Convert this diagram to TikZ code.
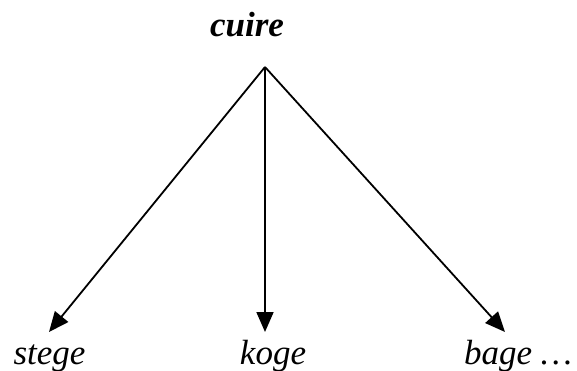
\documentclass[tikz,border=0pt]{standalone}
\usepackage{fontspec}
\setmainfont{Liberation Serif}
\usetikzlibrary{arrows.meta}

\begin{document}
\begin{tikzpicture}[x=1pt,y=-1pt,line width=1.8pt,>={Triangle[length=20pt,width=17pt]},
  word/.style={font=\itshape\fontsize{35}{42}\selectfont,anchor=base,inner sep=0pt}]
  \useasboundingbox (0,0) rectangle (577,371);
  % racine
  \node[word,font=\bfseries\itshape\fontsize{35}{42}\selectfont] (cuire) at (247,37) {cuire};
  \coordinate (top) at (265,67);
  % derives
  \node[word] (stege) at (49.5,364) {stege};
  \node[word] (koge) at (273,364) {koge};
  \node[word] (bage) at (518,364) {bage \dots};
  \coordinate (tips) at (49,332);
  \coordinate (tipk) at (265,332);
  \coordinate (tipb) at (505,332);
  \foreach \t in {tips,tipk,tipb} \draw[->] (top)--(\t);
\end{tikzpicture}
\end{document}
